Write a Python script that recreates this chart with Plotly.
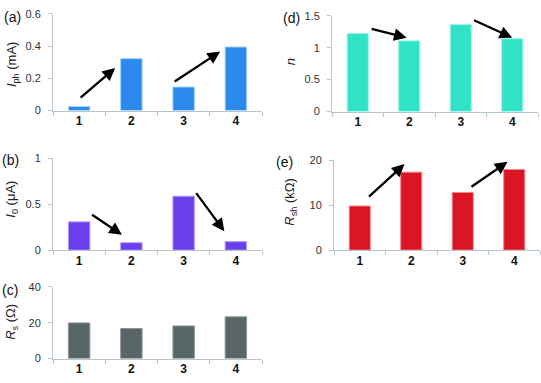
import plotly.graph_objects as go

# samples 1..4
samples = [1, 2, 3, 4]

# extracted parameters
i_ph = [0.025, 0.322, 0.146, 0.394]      # mA
i_0 = [0.307, 0.080, 0.586, 0.092]       # uA
r_s = [19.9, 16.8, 18.2, 23.3]           # Ohm
n_ideal = [1.22, 1.106, 1.36, 1.14]
r_sh = [9.8, 17.3, 12.8, 17.9]           # kOhm

# arrows: (x_tail, y_tail, x_head, y_head) in sample / value units
arrows_a = [(1.0, 0.072, 1.69, 0.264), (2.8, 0.174, 3.7, 0.366)]
arrows_b = [(1.22, 0.396, 1.82, 0.166), (3.22, 0.635, 3.78, 0.205)]
arrows_d = [(1.24, 1.30, 1.95, 1.156), (3.23, 1.44, 4.0, 1.156)]
arrows_e = [(1.15, 11.56, 1.87, 19.1), (3.14, 13.85, 3.87, 19.6)]

W, H = 541, 383
FONT = "Arial, Liberation Sans, sans-serif"
AXCOL = "#b7c5cc"


def px_x(a, b):
    return [a / W, b / W]


def px_y(top, bottom):
    return [1 - bottom / H, 1 - top / H]


panels = [
    # key, values, colour, x-domain px, y-domain px, ticks, arrows
    ("a", i_ph, "#2b88ec", (53, 262), (8, 108), [0, 0.2, 0.4, 0.6], arrows_a),
    ("b", i_0, "#6a3ded", (53, 262), (157, 252), [0, 0.5, 1], arrows_b),
    ("c", r_s, "#586668", (53, 262), (290, 364), [0, 20, 40], None),
    ("d", n_ideal, "#30e2c6", (332, 538), (10, 109), [0, 0.5, 1, 1.5], arrows_d),
    ("e", r_sh, "#dc1525", (334, 540), (159, 252), [0, 10, 20], arrows_e),
]
edge = {"a": "#9fd0fa", "b": "#b49cf5", "c": "#8a9698", "d": "#9af5e6", "e": "#f58a92"}

fig = go.Figure()
annotations = []

for i, (key, vals, col, xd, yd, yt, arr) in enumerate(panels, start=1):
    xa = "x" if i == 1 else f"x{i}"
    ya = "y" if i == 1 else f"y{i}"
    fig.add_trace(go.Bar(
        x=samples, y=vals, xaxis=xa, yaxis=ya, width=0.41,
        marker=dict(color=col, line=dict(color=edge[key], width=1)),
        showlegend=False,
    ))
    xname = "xaxis" if i == 1 else f"xaxis{i}"
    yname = "yaxis" if i == 1 else f"yaxis{i}"
    fig.layout[xname] = dict(
        domain=px_x(*xd), anchor=ya, range=[0.5, 4.5],
        tickvals=samples, ticktext=[str(s) for s in samples],
        ticks="", ticklabelstandoff=-1,
        minor=dict(tickvals=[0.5, 1.5, 2.5, 3.5, 4.5], ticks="outside",
                   ticklen=4, tickcolor=AXCOL, showgrid=False),
        showline=True, linecolor=AXCOL, linewidth=1, showgrid=False,
        zeroline=False, fixedrange=True,
        tickfont=dict(family=FONT, size=12, color="#111111", weight="bold"),
    )
    fig.layout[yname] = dict(
        domain=px_y(*yd), anchor=xa, range=[0, yt[-1]],
        tickvals=yt, ticks="outside", ticklen=4, tickcolor=AXCOL,
        ticklabelstandoff=5,
        showline=True, linecolor=AXCOL, linewidth=1, showgrid=False,
        zeroline=False, fixedrange=True,
        tickfont=dict(family=FONT, size=11, color="#333333"),
    )
    if arr:
        for (x0, y0, x1, y1) in arr:
            annotations.append(dict(
                x=x1, y=y1, ax=x0, ay=y0, xref=xa, yref=ya, axref=xa, ayref=ya,
                text="", showarrow=True, arrowhead=2, arrowsize=1.1,
                arrowwidth=2.3, arrowcolor="black", standoff=0,
            ))

# panel letters
letters = [("(a)", 12, 11), ("(b)", 10, 159), ("(c)", 10, 293), ("(d)", 291, 12), ("(e)", 284, 161)]
for txt, x, y in letters:
    annotations.append(dict(
        text=txt, x=x / W, y=1 - y / H, xref="paper", yref="paper",
        showarrow=False, xanchor="center", yanchor="middle",
        font=dict(family=FONT, size=14, color="#111111"),
    ))

# y-axis titles
ytitles = [
    ("<i>I</i><sub>ph</sub> (mA)", 12, 60),
    ("<i>I</i><sub>0</sub> (μA)", 12, 200),
    ("<i>R</i><sub>s</sub> (Ω)", 12, 326),
    ("<i>n</i>", 290, 58),
    ("<i>R</i><sub>sh</sub> (kΩ)", 291, 202),
]
for txt, x, y in ytitles:
    annotations.append(dict(
        text=txt, x=x / W, y=1 - y / H, xref="paper", yref="paper",
        showarrow=False, textangle=-90, xanchor="center", yanchor="middle",
        font=dict(family=FONT, size=13, color="#222222"),
    ))

fig.update_layout(
    width=W, height=H, margin=dict(l=0, r=0, t=0, b=0),
    paper_bgcolor="white", plot_bgcolor="white",
    annotations=annotations, showlegend=False,
)

fig.write_html("out.html", config={"displayModeBar": False},
               post_script="document.body.style.margin='0';")
